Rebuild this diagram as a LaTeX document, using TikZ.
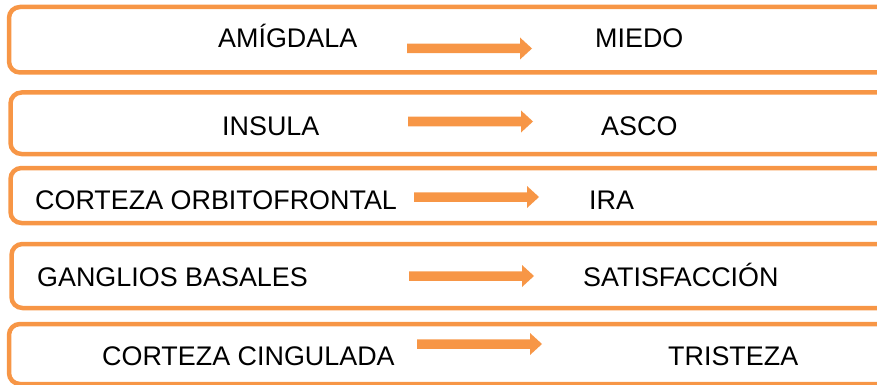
\documentclass[tikz,border=0pt]{standalone}
\usepackage{fontspec}
\setmainfont{Liberation Sans}
\usetikzlibrary{calc}
\definecolor{org}{RGB}{247,150,70}
\newcommand\blockarrow[2]{\fill[org] let \p1=(#1), \p2=(#2) in
  (\x1,\y1-4.75pt) -- (\x2-12pt,\y1-4.75pt) -- (\x2-12pt,\y1-11pt) -- (\x2,\y1)
  -- (\x2-12pt,\y1+11pt) -- (\x2-12pt,\y1+4.75pt) -- (\x1,\y1+4.75pt) -- cycle;}
\begin{document}
\begin{tikzpicture}[x=1pt,y=-1pt,
  box/.style={draw=org,line width=4.5pt,rounded corners=11pt},
  lbl/.style={anchor=base west,inner sep=0pt,font=\fontsize{26.9}{30}\selectfont}]
\useasboundingbox (0,0) rectangle (877,385);
\clip (0,0) rectangle (877,385);
% boxes
\draw[box] (9,7) rectangle (900,72.5);
\draw[box] (10.5,92.5) rectangle (900,154);
\draw[box] (10.5,168) rectangle (900,223);
\draw[box] (11.5,244) rectangle (900,308);
\draw[box] (9,324) rectangle (900,384);
% labels
\node[lbl] (l1) at (218,47.5) {AMÍGDALA};
\node[lbl] (r1) at (595,47.5) {MIEDO};
\node[lbl] (l2) at (222,135.5) {INSULA};
\node[lbl] (r2) at (601,135.5) {ASCO};
\node[lbl] (l3) at (35,209) {CORTEZA ORBITOFRONTAL};
\node[lbl] (r3) at (589,209) {IRA};
\node[lbl] (l4) at (37,286) {GANGLIOS BASALES};
\node[lbl] (r4) at (583,286) {SATISFACCIÓN};
\node[lbl] (l5) at (102,365) {CORTEZA CINGULADA};
\node[lbl] (r5) at (668,365) {TRISTEZA};
% arrows
\coordinate (a1s) at (407,48.5); \coordinate (a1e) at (532,48.5);
\coordinate (a2s) at (408,121.5); \coordinate (a2e) at (533,121.5);
\coordinate (a3s) at (414,197); \coordinate (a3e) at (539,197);
\coordinate (a4s) at (409,276); \coordinate (a4e) at (534,276);
\coordinate (a5s) at (417,344); \coordinate (a5e) at (542,344);
\blockarrow{a1s}{a1e}
\blockarrow{a2s}{a2e}
\blockarrow{a3s}{a3e}
\blockarrow{a4s}{a4e}
\blockarrow{a5s}{a5e}
\end{tikzpicture}
\end{document}
